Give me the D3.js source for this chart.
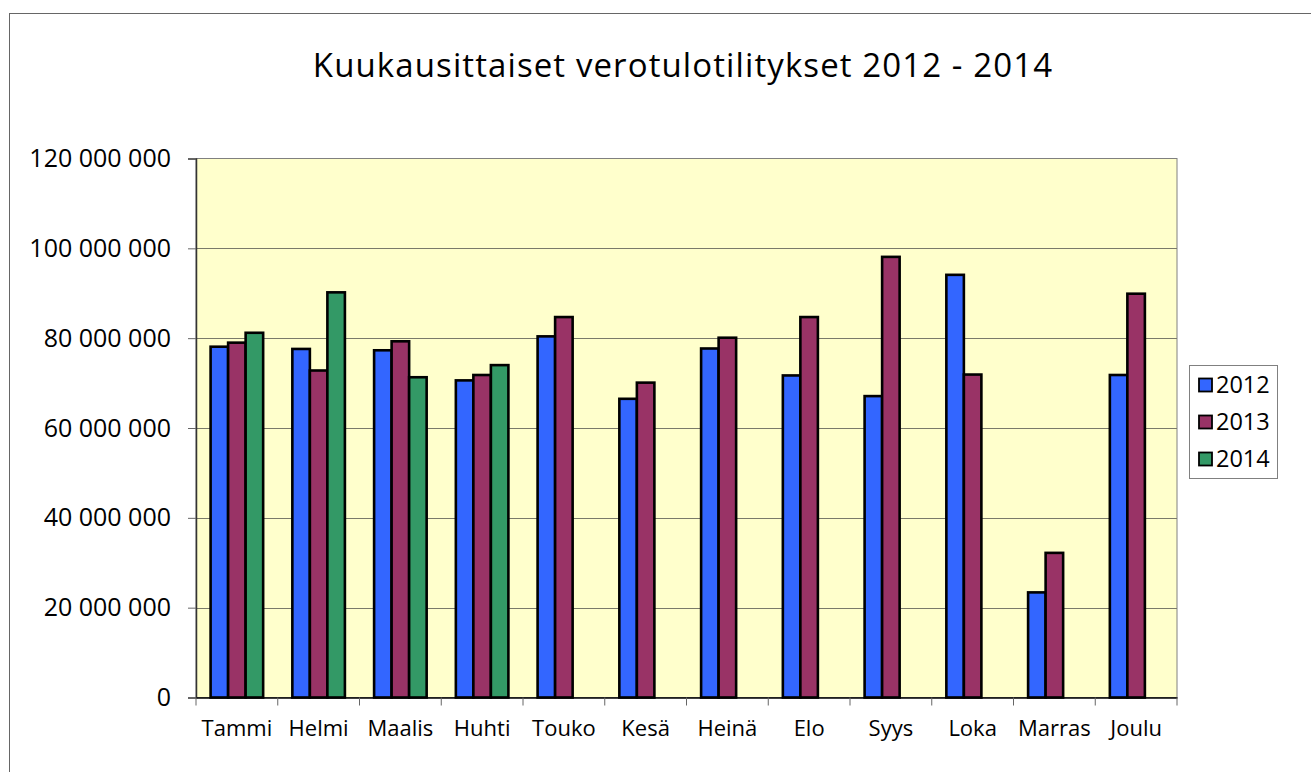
<!DOCTYPE html>
<html>
<head>
<meta charset="utf-8">
<script src="https://cdn.jsdelivr.net/npm/d3@7"></script>
<style>
  html, body { margin: 0; padding: 0; background: #fff; }
  svg { display: block; }
  text { font-family: "Open Sans", "Noto Sans", sans-serif; fill: #000; }
</style>
</head>
<body>
<svg id="chart" width="1311" height="772"></svg>
<script>
const months = ["Tammi", "Helmi", "Maalis", "Huhti", "Touko", "Kesä", "Heinä", "Elo", "Syys", "Loka", "Marras", "Joulu"];
const seriesNames = ["2012", "2013", "2014"];
const values2012 = [78.1e6, 77.6e6, 77.3e6, 70.6e6, 80.4e6, 66.5e6, 77.7e6, 71.7e6, 67.1e6, 94.1e6, 23.4e6, 71.8e6];
const values2013 = [79.0e6, 72.8e6, 79.3e6, 71.8e6, 84.7e6, 70.1e6, 80.1e6, 84.7e6, 98.1e6, 71.9e6, 32.2e6, 89.9e6];
const values2014 = [81.2e6, 90.2e6, 71.3e6, 74.0e6, null, null, null, null, null, null, null, null];
const yTicks = [0, 20e6, 40e6, 60e6, 80e6, 100e6, 120e6];
const colors = ["#3366FF", "#993366", "#339966"];
const title = "Kuukausittaiset verotulotilitykset 2012 - 2014";

const seriesValues = [values2012, values2013, values2014];

const svg = d3.select("#chart");

// outer chart frame (cropped by window)
svg.append("rect")
  .attr("x", 9.5).attr("y", 13.5)
  .attr("width", 1400).attr("height", 800)
  .attr("fill", "#fff").attr("stroke", "#666").attr("stroke-width", 1);

const plot = { left: 196, right: 1177, top: 158.5, bottom: 697.5 };

const x0 = d3.scaleBand().domain(months).range([plot.left, plot.right]).padding(0);
const bw = x0.bandwidth();
const x1 = d3.scaleBand().domain(seriesNames).range([bw * 0.1786, bw * 0.8214]).padding(0);
const y = d3.scaleLinear().domain([0, 120e6]).range([plot.bottom, plot.top]);

// plot background
svg.append("rect")
  .attr("x", plot.left).attr("y", plot.top)
  .attr("width", plot.right - plot.left).attr("height", plot.bottom - plot.top)
  .attr("fill", "#FFFFCC").attr("stroke", "#808080").attr("stroke-width", 1);

// gridlines
svg.append("g").selectAll("line").data(yTicks.filter(d => d > 0 && d < 120e6)).join("line")
  .attr("x1", plot.left).attr("x2", plot.right)
  .attr("y1", d => Math.round(y(d)) + 0.5).attr("y2", d => Math.round(y(d)) + 0.5)
  .attr("stroke", "#7a7a6a").attr("stroke-width", 1);

// bars
const groups = svg.append("g").selectAll("g").data(months).join("g")
  .attr("transform", d => `translate(${x0(d)},0)`);
groups.selectAll("rect")
  .data((m, i) => seriesNames.map((s, j) => ({ s, j, v: seriesValues[j][i] })).filter(d => d.v != null))
  .join("rect")
  .attr("x", d => x1(d.s))
  .attr("y", d => y(d.v))
  .attr("width", x1.bandwidth())
  .attr("height", d => y(0) - y(d.v))
  .attr("fill", d => colors[d.j])
  .attr("stroke", "#000").attr("stroke-width", 2.6);

// y axis
const yAxis = d3.axisLeft(y).tickValues(yTicks).tickSize(8).tickPadding(17)
  .tickFormat(d => d3.format(",")(d).replace(/,/g, "\u00a0"));
const gy = svg.append("g").attr("transform", `translate(${plot.left},0)`).call(yAxis);
gy.select(".domain").attr("stroke", "#333").attr("stroke-width", 1.5);
gy.selectAll(".tick line").attr("stroke", "#666");
gy.selectAll(".tick text").attr("font-size", 25).attr("font-family", "Open Sans").attr("fill", "#000");

// x axis
const xAxis = d3.axisBottom(x0).tickSize(0).tickPadding(23);
const gx = svg.append("g").attr("transform", `translate(0,${plot.bottom})`).call(xAxis);
gx.select(".domain").attr("stroke", "#000").attr("stroke-width", 1.5);
gx.selectAll(".tick text").attr("font-size", 22).attr("font-family", "Open Sans").attr("fill", "#000");
// category boundary ticks
svg.append("g").selectAll("line").data(months.concat(["__end"])).join("line")
  .attr("x1", d => d === "__end" ? plot.right : x0(d))
  .attr("x2", d => d === "__end" ? plot.right : x0(d))
  .attr("y1", plot.bottom).attr("y2", plot.bottom + 8)
  .attr("stroke", "#666").attr("stroke-width", 1);

// title
svg.append("text")
  .attr("x", 683).attr("y", 77)
  .attr("text-anchor", "middle")
  .attr("font-size", 33)
  .attr("letter-spacing", 1.1)
  .text(title);

// legend
const lg = svg.append("g");
lg.append("rect")
  .attr("x", 1189.5).attr("y", 365.5).attr("width", 88).attr("height", 113)
  .attr("fill", "#fff").attr("stroke", "#808080").attr("stroke-width", 1);
const items = lg.selectAll("g").data(seriesNames).join("g")
  .attr("transform", (d, i) => `translate(1199,${385 + i * 37})`);
items.append("rect")
  .attr("x", 0).attr("y", -6.5).attr("width", 13).attr("height", 13)
  .attr("fill", (d, i) => colors[i]).attr("stroke", "#000").attr("stroke-width", 1.8);
items.append("text")
  .attr("x", 17).attr("y", 0).attr("dy", "0.35em")
  .attr("font-size", 23.5)
  .text(d => d);
</script>
</body>
</html>
